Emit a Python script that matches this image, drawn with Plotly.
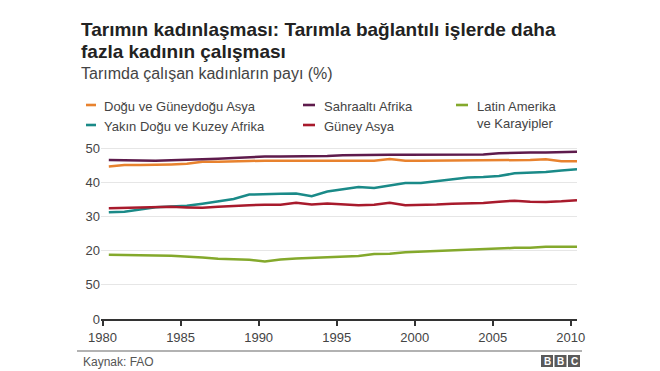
import plotly.graph_objects as go

years = list(range(1980, 2011))

dogu_asya = [44.6, 45.0, 45.0, 45.0, 45.2, 45.4, 46.0, 46.0, 46.0, 46.2, 46.3, 46.3, 46.3, 46.3, 46.3, 46.3,
             46.3, 46.3, 46.8, 46.3, 46.3, 46.3, 46.4, 46.4, 46.4, 46.4, 46.4, 46.5, 46.7, 46.1, 46.1]
sahraalti = [46.5, 46.4, 46.3, 46.3, 46.4, 46.5, 46.7, 46.9, 47.1, 47.4, 47.5, 47.5, 47.5, 47.6, 47.7, 47.9,
             48.0, 48.0, 48.0, 48.0, 48.0, 48.0, 48.1, 48.1, 48.1, 48.5, 48.7, 48.7, 48.7, 48.8, 48.9]
yakin_dogu = [31.2, 31.4, 32.0, 32.7, 32.9, 33.1, 33.7, 34.4, 35.1, 36.4, 36.6, 36.6, 36.7, 35.9, 37.3, 38.0,
              38.6, 38.3, 39.0, 39.8, 39.8, 40.3, 41.0, 41.4, 41.5, 41.8, 42.6, 42.7, 43.0, 43.4, 43.8]
guney_asya = [32.4, 32.5, 32.6, 32.7, 32.8, 32.6, 32.5, 32.8, 33.1, 33.3, 33.4, 33.4, 34.0, 33.5, 33.8, 33.5,
              33.3, 33.4, 34.0, 33.3, 33.3, 33.5, 33.7, 33.8, 33.9, 34.3, 34.6, 34.3, 34.2, 34.4, 34.7]
latin_amerika = [18.8, 18.8, 18.7, 18.6, 18.5, 18.3, 18.0, 17.6, 17.4, 17.3, 16.8, 17.4, 17.7, 17.9, 18.1, 18.3,
                 18.4, 19.0, 19.1, 19.5, 19.7, 19.9, 20.1, 20.3, 20.5, 20.6, 20.8, 20.8, 21.1, 21.1, 21.1]

series_names = ["Doğu ve Güneydoğu Asya", "Sahraaltı Afrika", "Latin Amerika<br>ve Karayipler",
                "Yakın Doğu ve Kuzey Afrika", "Güney Asya"]
series_values = [dogu_asya, sahraalti, latin_amerika, yakin_dogu, guney_asya]
series_colors = ["#e8822e", "#5e1b4c", "#84a92c", "#1a8a88", "#a81a2c"]

y_tickvals = [0, 10, 20, 30, 40, 50]
y_ticktext = ["0", "50", "20", "30", "40", "50"]
x_tickvals = [1980, 1985, 1990, 1995, 2000, 2005, 2010]

OFF = 8  # page body margin
W, H = 660 - OFF, 371 - OFF
ML, MR, MT, MB = 101 - OFF, 83, 147 - OFF, 52
PW, PH = W - ML - MR, H - MT - MB


def px(x):
    return (x - OFF - ML) / PW


def py(y):
    return (H - MB - (y - OFF)) / PH


FONT = "Liberation Sans, Arial, sans-serif"
mid = 0.4  # values plotted at mid-year

fig = go.Figure()
order = [0, 3, 1, 4, 2]
for i in order:
    fig.add_trace(go.Scatter(
        x=[yr + mid for yr in years], y=series_values[i], mode="lines",
        line=dict(color=series_colors[i], width=2.5), showlegend=False, hoverinfo="skip"))

shapes = []
annotations = []

# Title & subtitle
annotations.append(dict(x=px(79), y=py(30), xref="paper", yref="paper", xanchor="left", yanchor="middle",
                        text="<b>Tarımın kadınlaşması: Tarımla bağlantılı işlerde daha</b>", showarrow=False,
                        font=dict(family=FONT, size=19, color="#222222")))
annotations.append(dict(x=px(79), y=py(52), xref="paper", yref="paper", xanchor="left", yanchor="middle",
                        text="<b>fazla kadının çalışması</b>", showarrow=False,
                        font=dict(family=FONT, size=19, color="#222222")))
annotations.append(dict(x=px(79), y=py(74), xref="paper", yref="paper", xanchor="left", yanchor="middle",
                        text="Tarımda çalışan kadınların payı (%)", showarrow=False,
                        font=dict(family=FONT, size=16, color="#444444")))

# Manual legend: (dash start, dash end, text start, row y)
legend_pos = [(86, 96, 102, 105), (303, 315, 322, 105), (456, 468, 475, 105),
              (86, 96, 102, 125), (303, 315, 322, 125)]
for (d0, d1, tx, ly), name, color in zip(legend_pos, series_names, series_colors):
    shapes.append(dict(type="line", xref="paper", yref="paper", x0=px(d0), x1=px(d1),
                       y0=py(ly), y1=py(ly), line=dict(color=color, width=2.6)))
    annotations.append(dict(x=px(tx), y=py(ly - 8), xref="paper", yref="paper", xanchor="left",
                            yanchor="top", align="left", text=name, showarrow=False,
                            font=dict(family=FONT, size=13, color="#444444")))

# Footer
shapes.append(dict(type="line", xref="paper", yref="paper", x0=px(77), x1=px(582), y0=py(351), y1=py(351),
                   line=dict(color="#999999", width=1.5)))
annotations.append(dict(x=px(81), y=py(362), xref="paper", yref="paper", xanchor="left", yanchor="middle",
                        text="Kaynak: FAO", showarrow=False, font=dict(family=FONT, size=12, color="#555555")))
for k, letter in enumerate("BBC"):
    x0 = 541 + k * 13.5
    shapes.append(dict(type="rect", xref="paper", yref="paper", x0=px(x0), x1=px(x0 + 12),
                       y0=py(367), y1=py(355), fillcolor="#5a5a5a", line=dict(width=0)))
    annotations.append(dict(x=px(x0 + 6), y=py(361.3), xref="paper", yref="paper", xanchor="center",
                            yanchor="middle", text="<b>%s</b>" % letter, showarrow=False,
                            font=dict(family=FONT, size=10, color="#ffffff")))

fig.update_layout(
    width=W, height=H,
    margin=dict(l=ML, r=MR, t=MT, b=MB),
    paper_bgcolor="white", plot_bgcolor="white",
    font=dict(family=FONT, size=13, color="#444444"),
    shapes=shapes, annotations=annotations,
    xaxis=dict(range=[1979.9, 2010.4], tickvals=x_tickvals, ticks="outside", ticklen=5, tickwidth=2,
               tickcolor="#333333", showline=True, linecolor="#333333", linewidth=2, showgrid=False,
               zeroline=False, tickfont=dict(family=FONT, size=13, color="#444444")),
    yaxis=dict(range=[0, 50.3], tickvals=y_tickvals, ticktext=y_ticktext, showgrid=True,
               gridcolor="#e6e6e6", gridwidth=1, zeroline=False, showline=False, ticks="",
               tickfont=dict(family=FONT, size=13, color="#444444")),
)

fig.write_html("out.html")
